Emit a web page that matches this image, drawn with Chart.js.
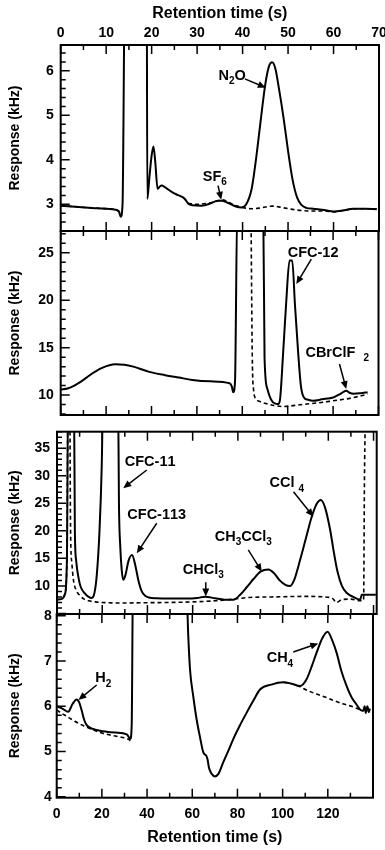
<!DOCTYPE html>
<html>
<head>
<meta charset="utf-8">
<script src="https://cdn.jsdelivr.net/npm/chart.js@4.4.1/dist/chart.umd.min.js"></script>
<style>
  html, body { margin: 0; padding: 0; background: #fff; }
  #page { position: relative; width: 385px; height: 850px; }
  #page canvas { position: absolute; left: 0; top: 0; }
</style>
</head>
<body>
<div id="page">
  <canvas id="panelA" width="385" height="850"></canvas>
  <canvas id="panelB" width="385" height="850"></canvas>
  <canvas id="panelC" width="385" height="850"></canvas>
  <canvas id="panelD" width="385" height="850"></canvas>
</div>
<script>
// --- data (retention time in s, response in kHz) ---

// panel A : N2O / SF6
const aTime   = [0, 4, 8, 12, 12.8, 13.2, 13.6, 14.2, 18.9, 19.05, 19.5, 20.0, 20.4, 20.8, 21.3, 21.8, 22.2, 23, 24.4, 25.5, 26.6, 27.3, 28.0, 29, 31, 33, 34.5, 35.5, 37, 38.5, 39.8, 40.8, 42, 43, 44, 45, 45.8, 46.5, 47.2, 48, 49, 50, 51, 52, 53, 54, 55.5, 58, 60, 62, 64.3, 67, 69.5];
const aSample = [2.97, 2.94, 2.91, 2.88, 2.84, 2.72, 3.0, 9, 9, 3.12, 3.6, 4.1, 4.3, 3.95, 3.35, 3.4, 3.42, 3.38, 3.28, 3.22, 3.17, 3.12, 3.02, 2.98, 2.97, 3.02, 3.08, 3.08, 3.02, 2.95, 2.93, 3.0, 3.35, 4.05, 4.9, 5.7, 6.1, 6.19, 6.05, 5.6, 4.95, 4.2, 3.55, 3.15, 2.98, 2.92, 2.9, 2.87, 2.84, 2.86, 2.9, 2.9, 2.89];
const aBlankTime = [0, 4, 8, 12, 12.8, null, 28, 30, 32, 34, 35.5, 36.5, 38, 40, 42, 44, 46.5, 49, 52, 55, 58, 60, 62, 65, 69.5];
const aBlank     = [2.97, 2.94, 2.91, 2.88, 2.84, null, 3.02, 3.0, 3.02, 3.06, 3.1, 3.07, 2.99, 2.93, 2.9, 2.92, 2.96, 2.92, 2.87, 2.85, 2.85, 2.83, 2.86, 2.9, 2.9];

// panel B : CFC-12 / CBrClF2
const bTime   = [0, 1.5, 3, 5, 7, 9, 12, 14, 16, 19.5, 23, 26, 29, 33, 37.2, 37.7, 38.0, 38.4, 38.9, 44.6, 44.9, 45.5, 46.5, 47.9, 48.3, 49.0, 49.7, 50.4, 51.0, 51.6, 52.3, 52.9, 53.5, 54.5, 55.6, 57.5, 60, 61.5, 62.9, 63.6, 64.5, 66, 67.6];
const bSample = [10.6, 10.7, 11.0, 11.6, 12.3, 12.85, 13.25, 13.2, 13.0, 12.45, 12.1, 11.85, 11.6, 11.45, 11.25, 10.9, 10.3, 11.5, 30, 30, 14, 10.7, 9.4, 9.05, 9.5, 14.5, 20, 24.2, 24.2, 19.5, 14.5, 11.0, 9.8, 9.5, 9.4, 9.55, 9.75, 10.1, 10.45, 10.25, 10.15, 10.2, 10.3];
const bBlankTime = [41.9, 42.2, 42.5, 43.0, 44, 45.3, 47, 48.9, 50.5, 52.3, 55, 58, 60, 63, 65.5, 67.6];
const bBlank     = [30, 14, 10.5, 9.6, 9.3, 9.1, 8.9, 8.8, 8.85, 8.95, 9.1, 9.25, 9.4, 9.6, 9.85, 10.1];

// panel C : CFC-11, CFC-113, CHCl3, CH3CCl3, CCl4
const cTime   = [0, 2, 3.5, 4.4, 4.9, 7.5, 7.9, 8.5, 9.5, 10.5, 12.4, 14, 15.3, 16.5, 17.6, 18.8, 19.8, 20.4, 27.0, 27.4, 28.0, 28.6, 29.3, 30.3, 31.6, 33.2, 34.5, 36, 37.5, 39, 40.6, 44, 50, 57, 62, 65.5, 70, 74, 78, 81, 84, 87, 90, 93.5, 96, 98.5, 101, 103.1, 105, 107.5, 110, 112.7, 115, 116.7, 118.5, 120.8, 122.5, 124, 126, 128.2, 131, 134.1, 134.8, 138.5, 141];
const cSample = [7.5, 7.6, 8.5, 15, 45, 45, 20, 14.5, 11.5, 9.8, 8.6, 8.0, 7.8, 8.6, 12, 20, 32, 45, 45, 25, 17, 13, 11.1, 12.0, 14.5, 15.6, 14.0, 11.0, 9.0, 8.2, 7.9, 7.75, 7.7, 7.7, 7.8, 8.05, 7.75, 7.5, 7.5, 8.4, 9.8, 11.3, 12.6, 13.0, 12.3, 11.0, 10.2, 10.0, 11.2, 14.7, 18.5, 22.6, 25.0, 25.6, 24.3, 20.2, 16.0, 12.7, 10.0, 8.7, 8.0, 7.5, 8.4, 8.4, 8.4];
const cBlankTime = [0, 2, 3.5, 4.4, 4.9, 5.6, 6.0, 6.6, 7.3, 8.5, 10, 12, 14, 17, 22, 30, 40, 50, 60, 70, 78, 85, 95, 110, 118, 122, 123.5, 126, 130, 134, 135.6, 136.0, 136.6];
const cBlank     = [7.5, 7.6, 8.5, 15, 45, 45, 20, 14, 11, 9.2, 8.3, 7.6, 7.3, 7.1, 6.95, 6.9, 6.95, 7.0, 7.1, 7.3, 7.6, 7.9, 8.0, 8.1, 8.0, 7.7, 7.0, 7.5, 7.6, 7.3, 7.4, 30, 45];

// panel D : H2 / CH4
const dTime   = [0, 2.5, 5.1, 7, 8.8, 10, 11.1, 12.3, 13.5, 16, 19.2, 22, 26, 31, 32.6, 33.2, 33.8, 57.2, 58.2, 59, 60.5, 61.9, 63.5, 64.9, 66.3, 66.8, 67.4, 68.7, 70, 71.5, 73.7, 76, 78.1, 81, 84.1, 87, 90, 95, 100.3, 104, 107.7, 110.6, 113, 115, 117.5, 119.9, 122, 123.9, 126, 128.3, 130.5, 132.7, 134.5, 135.7, 136.3, 136.8, 137.5, 138.2, 138.6];
const dSample = [6.0, 5.95, 5.88, 6.05, 6.15, 6.08, 5.9, 5.68, 5.57, 5.5, 5.46, 5.44, 5.42, 5.38, 5.28, 5.6, 9, 9, 7.6, 6.82, 6.2, 5.72, 5.3, 4.98, 4.9, 4.82, 4.64, 4.5, 4.45, 4.5, 4.76, 5.02, 5.27, 5.57, 5.86, 6.12, 6.37, 6.48, 6.53, 6.5, 6.45, 6.6, 6.9, 7.18, 7.5, 7.65, 7.45, 7.18, 6.78, 6.45, 6.2, 6.04, 5.92, 5.9, 6.0, 5.85, 6.0, 5.87, 5.95];
const dBlankTime = [0, 2, 4.4, 8, 11.9, 15, 19.2, 25, 31.8, 32.6, null, 100.3, 104, 107.7, 111, 115, 119, 123, 127, 130.4, 133, 135.7];
const dBlank     = [5.92, 5.85, 5.78, 5.67, 5.57, 5.5, 5.42, 5.35, 5.27, 5.24, null, 6.53, 6.5, 6.43, 6.35, 6.27, 6.2, 6.12, 6.05, 6.0, 5.95, 5.9];

const xTitle = 'Retention time (s)';
const yTitle = 'Response (kHz)';
const FONT = "'Liberation Sans', Arial, sans-serif";

Chart.defaults.font.family = FONT;
Chart.defaults.color = '#000';

function pts(xs, ys) {
  return xs.map((x, i) => ({ x: x, y: ys[i] }));
}

// frame with inward ticks, drawn from the scales
const framePlugin = {
  id: 'frame',
  afterDatasetsDraw(chart, args, o) {
    const { ctx, chartArea: a } = chart;
    const xs = chart.scales.x, ys = chart.scales.y;
    ctx.save();
    ctx.strokeStyle = '#000';
    ctx.lineWidth = 1.5;
    ctx.beginPath();
    for (let v = xs.min; v <= xs.max + 1e-6; v += o.xMinor) {
      const px = xs.getPixelForValue(v);
      const major = Math.abs(v / o.xMajor - Math.round(v / o.xMajor)) < 1e-6;
      const len = major ? 9 : 5;
      ctx.moveTo(px, a.top); ctx.lineTo(px, a.top + len);
      ctx.moveTo(px, a.bottom); ctx.lineTo(px, a.bottom - len);
    }
    const y0 = Math.ceil(ys.min / o.yMinor - 1e-6) * o.yMinor;
    for (let v = y0; v <= ys.max + 1e-6; v += o.yMinor) {
      const py = ys.getPixelForValue(v);
      const major = Math.abs(v / o.yMajor - Math.round(v / o.yMajor)) < 1e-6;
      ctx.moveTo(a.left, py); ctx.lineTo(a.left + (major ? 9 : 5), py);
    }
    ctx.stroke();
    ctx.lineWidth = 2;
    ctx.strokeRect(a.left, a.top, a.right - a.left, a.bottom - a.top);
    ctx.restore();
  }
};

function drawRich(ctx, str, cx, cy, size) {
  const parts = [];
  for (let i = 0; i < str.length; i++) {
    if (str[i] === '_') { parts.push({ t: str[i + 1], sub: true }); i++; }
    else parts.push({ t: str[i], sub: false });
  }
  const big = `bold ${size}px ${FONT}`;
  const small = `bold ${Math.round(size * 0.7)}px ${FONT}`;
  let w = 0;
  parts.forEach(p => { ctx.font = p.sub ? small : big; p.w = ctx.measureText(p.t).width; w += p.w; });
  let x = cx - w / 2;
  ctx.textAlign = 'left';
  ctx.textBaseline = 'middle';
  parts.forEach(p => {
    ctx.font = p.sub ? small : big;
    ctx.fillText(p.t, x, p.sub ? cy + size * 0.4 : cy);
    x += p.w;
  });
}

// peak labels with arrows, placed in data units
const notePlugin = {
  id: 'notes',
  afterDraw(chart, args, o) {
    const { ctx } = chart;
    const xs = chart.scales.x, ys = chart.scales.y;
    ctx.save();
    ctx.fillStyle = '#000';
    ctx.strokeStyle = '#000';
    (o.items || []).forEach(n => {
      drawRich(ctx, n.text, xs.getPixelForValue(n.x), ys.getPixelForValue(n.y), 14.5);
      const x1 = xs.getPixelForValue(n.from[0]), y1 = ys.getPixelForValue(n.from[1]);
      const x2 = xs.getPixelForValue(n.to[0]), y2 = ys.getPixelForValue(n.to[1]);
      const ang = Math.atan2(y2 - y1, x2 - x1);
      ctx.lineWidth = 1.5;
      ctx.beginPath();
      ctx.moveTo(x1, y1);
      ctx.lineTo(x2 - 5 * Math.cos(ang), y2 - 5 * Math.sin(ang));
      ctx.stroke();
      ctx.beginPath();
      ctx.moveTo(x2, y2);
      ctx.lineTo(x2 - 8 * Math.cos(ang) + 3.5 * Math.sin(ang), y2 - 8 * Math.sin(ang) - 3.5 * Math.cos(ang));
      ctx.lineTo(x2 - 8 * Math.cos(ang) - 3.5 * Math.sin(ang), y2 - 8 * Math.sin(ang) + 3.5 * Math.cos(ang));
      ctx.closePath();
      ctx.fill();
    });
    ctx.restore();
  }
};

function makePanel(id, p) {
  const xAxis = {
    type: 'linear', min: p.xMin, max: p.xMax,
    display: p.xPos ? true : false,
    position: p.xPos || 'bottom',
    grid: { display: false, drawTicks: false },
    border: { display: false },
    ticks: {
      stepSize: p.xMajor, includeBounds: false, maxRotation: 0,
      padding: p.xPos === 'top' ? 3 : 8,
      font: { size: 14, weight: 'bold' }
    },
    title: {
      display: true, text: xTitle,
      font: { size: 16, weight: 'bold' },
      padding: { top: 4, bottom: 0 }
    },
    afterBuildTicks(s) {
      if (p.xLastLabel !== undefined) s.ticks = s.ticks.filter(t => t.value <= p.xLastLabel);
    }
  };
  if (p.xPos) {
    xAxis.afterFit = function (s) { s.height = p.xBox; s.paddingLeft = 0; s.paddingRight = 0; };
  }
  let padTop = p.area.top, padBottom = 850 - p.area.bottom;
  if (p.xPos === 'top') padTop = p.area.top - p.xBox;
  if (p.xPos === 'bottom') padBottom = 850 - p.area.bottom - p.xBox;

  new Chart(document.getElementById(id), {
    type: 'line',
    data: {
      datasets: [
        {
          data: pts(p.sampleX, p.sampleY),
          borderColor: '#000', borderWidth: 2,
          pointRadius: 0, cubicInterpolationMode: 'monotone', spanGaps: false
        },
        {
          data: pts(p.blankX, p.blankY),
          borderColor: '#000', borderWidth: 1.6, borderDash: [4, 3],
          pointRadius: 0, cubicInterpolationMode: 'monotone', spanGaps: false
        }
      ]
    },
    options: {
      responsive: false,
      animation: false,
      events: [],
      layout: {
        padding: { left: 3, right: 385 - p.area.right, top: padTop, bottom: padBottom }
      },
      plugins: {
        legend: { display: false },
        tooltip: { enabled: false },
        frame: { xMajor: p.xMajor, xMinor: p.xMajor / 2, yMajor: p.yMajor, yMinor: p.yMinor },
        notes: { items: p.notes }
      },
      scales: {
        x: xAxis,
        y: {
          type: 'linear', min: p.yMin, max: p.yMax,
          grid: { display: false, drawTicks: false },
          border: { display: false },
          ticks: { stepSize: p.yMajor, includeBounds: false, padding: p.yPad, font: { size: 14, weight: 'bold' } },
          title: { display: true, text: yTitle, font: { size: 14, weight: 'bold' }, padding: { top: 4, bottom: 4 } },
          afterBuildTicks(s) {
            if (p.yFirstLabel !== undefined) s.ticks = s.ticks.filter(t => t.value >= p.yFirstLabel);
          },
          afterFit(s) { s.width = p.area.left - 3; }
        }
      }
    },
    plugins: [framePlugin, notePlugin]
  });
}

makePanel('panelA', {
  area: { left: 60.7, top: 45, right: 379, bottom: 231 },
  xMin: 0, xMax: 70, xMajor: 10, xPos: 'top', xBox: 45,
  yMin: 2.4, yMax: 6.58, yMajor: 1, yMinor: 0.2, yPad: 7,
  sampleX: aTime, sampleY: aSample, blankX: aBlankTime, blankY: aBlank,
  notes: [
    { text: 'N_2O', x: 37.7, y: 5.89, from: [40.5, 5.82], to: [45.1, 5.62] },
    { text: 'SF_6', x: 33.9, y: 3.62, from: [34.6, 3.42], to: [35.3, 3.10] }
  ]
});

makePanel('panelB', {
  area: { left: 60.7, top: 231, right: 378.5, bottom: 415 },
  xMin: 0, xMax: 70, xMajor: 10,
  yMin: 7.9, yMax: 27.3, yMajor: 5, yMinor: 1, yPad: 7,
  sampleX: bTime, sampleY: bSample, blankX: bBlankTime, blankY: bBlank,
  notes: [
    { text: 'CFC-12', x: 55.6, y: 25.03, from: [55.2, 24.33], to: [51.9, 21.7] },
    { text: 'CBrClF  _2', x: 60.9, y: 14.46, from: [61.4, 13.27], to: [62.9, 10.63] }
  ]
});

makePanel('panelC', {
  area: { left: 57, top: 431.7, right: 376.7, bottom: 614 },
  xMin: 0, xMax: 141.4, xMajor: 20,
  yMin: 4.9, yMax: 38.0, yMajor: 5, yMinor: 1, yPad: 7, yFirstLabel: 10,
  sampleX: cTime, sampleY: cSample, blankX: cBlankTime, blankY: cBlank,
  notes: [
    { text: 'CFC-11', x: 41.2, y: 32.56, from: [39.7, 31.05], to: [29.3, 27.73] },
    { text: 'CFC-113', x: 44.1, y: 22.89, from: [44.1, 21.38], to: [35.3, 15.93] },
    { text: 'CHCl_3', x: 64.7, y: 12.9, from: [65.8, 10.67], to: [65.8, 8.06] },
    { text: 'CH_3CCl_3', x: 82.4, y: 18.95, from: [84.6, 16.53], to: [90.6, 12.6] },
    { text: 'CCl _4', x: 101.6, y: 28.64, from: [104.6, 27.11], to: [113.4, 22.58] }
  ]
});

makePanel('panelD', {
  area: { left: 56.7, top: 614, right: 373, bottom: 797.7 },
  xMin: 0, xMax: 140, xMajor: 20, xPos: 'bottom', xBox: 49.9, xLastLabel: 120,
  yMin: 3.98, yMax: 8.04, yMajor: 1, yMinor: 0.2, yPad: 5,
  sampleX: dTime, sampleY: dSample, blankX: dBlankTime, blankY: dBlank,
  notes: [
    { text: 'H_2', x: 20.6, y: 6.62, from: [17.7, 6.47], to: [9.6, 6.14] },
    { text: 'CH_4', x: 98.8, y: 7.06, from: [104.7, 7.2], to: [115.8, 7.39] }
  ]
});
</script>
</body>
</html>
